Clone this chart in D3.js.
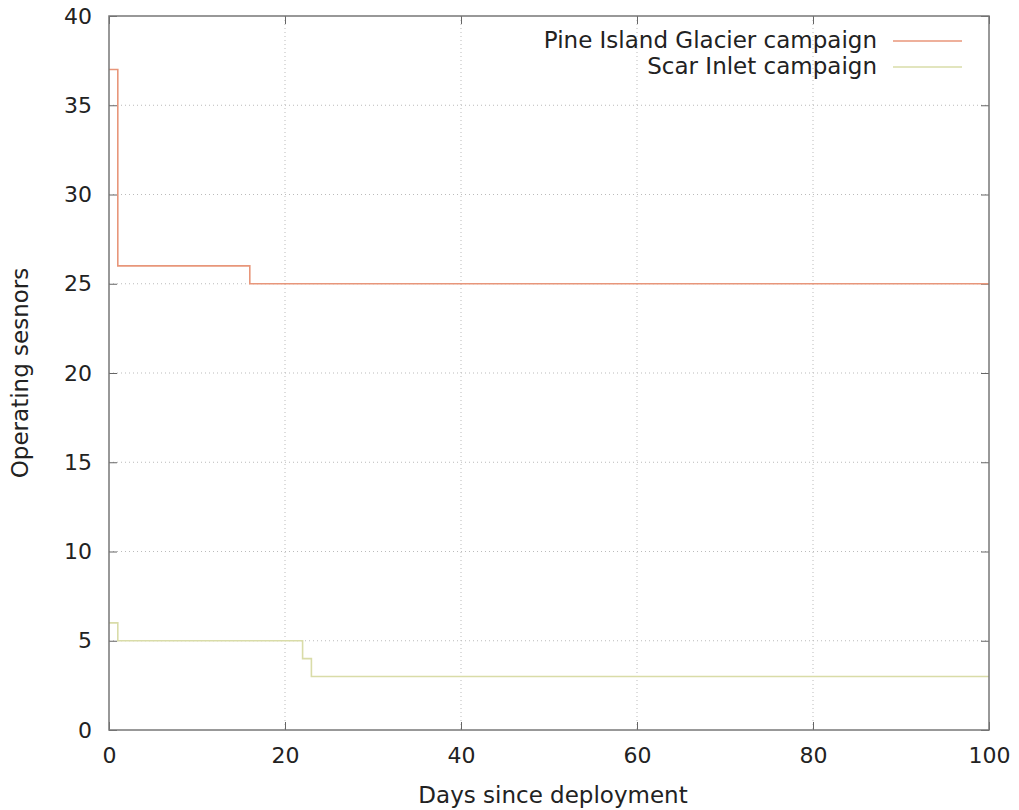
<!DOCTYPE html>
<html><head><meta charset="utf-8">
<script src="https://cdn.jsdelivr.net/npm/d3@7"></script>
<style>body{margin:0;background:#fff}svg{display:block}text{font-family:"DejaVu Sans",sans-serif;fill:#222}</style>
</head><body>
<svg id="c" width="1019" height="810"></svg>
<script>
const seriesNames = ["Pine Island Glacier campaign", "Scar Inlet campaign"];
const pineDays = [0, 1, 16, 100];
const pineSensors = [37, 26, 25, 25];
const scarDays = [0, 1, 22, 23, 100];
const scarSensors = [6, 5, 4, 3, 3];
const xTicks = [0, 20, 40, 60, 80, 100];
const yTicks = [0, 5, 10, 15, 20, 25, 30, 35, 40];
const colors = ["#e8967a", "#d9dca8"];
const FS = 22, FS2 = 23;

const svg = d3.select("#c");
const L = 109, R = 989, T = 16, B = 730;
const x = d3.scaleLinear().domain([0, 100]).range([L, R]);
const y = d3.scaleLinear().domain([0, 40]).range([B, T]);

// grid
const g = svg.append("g");
xTicks.slice(1, -1).forEach(t => g.append("line").attr("x1", x(t)).attr("x2", x(t)).attr("y1", T).attr("y2", B)
  .attr("stroke", "#bbb").attr("stroke-width", 1).attr("stroke-dasharray", "1,3"));
yTicks.slice(1, -1).forEach(t => g.append("line").attr("x1", L).attr("x2", R).attr("y1", y(t)).attr("y2", y(t))
  .attr("stroke", "#bbb").attr("stroke-width", 1).attr("stroke-dasharray", "1,3"));

// axes with inward ticks
const styleText = s => s.selectAll("text").attr("font-size", FS).attr("font-family", "DejaVu Sans").attr("fill", "#222");
const ax = svg.append("g").attr("class", "axes");
ax.append("g").attr("transform", `translate(0,${B})`)
  .call(d3.axisBottom(x).tickValues(xTicks).tickSizeInner(-8).tickSizeOuter(0).tickPadding(17))
  .call(s => { s.select(".domain").remove(); styleText(s); s.selectAll("line").attr("stroke", "#666"); });
ax.append("g").attr("transform", `translate(0,${T})`)
  .call(d3.axisTop(x).tickValues(xTicks).tickSizeInner(-8).tickSizeOuter(0).tickFormat(""))
  .call(s => { s.select(".domain").remove(); s.selectAll("line").attr("stroke", "#666"); });
ax.append("g").attr("transform", `translate(${L},0)`)
  .call(d3.axisLeft(y).tickValues(yTicks).tickSizeInner(-8).tickSizeOuter(0).tickPadding(17))
  .call(s => { s.select(".domain").remove(); styleText(s); s.selectAll("line").attr("stroke", "#666"); });
ax.append("g").attr("transform", `translate(${R},0)`)
  .call(d3.axisRight(y).tickValues(yTicks).tickSizeInner(-8).tickSizeOuter(0).tickFormat(""))
  .call(s => { s.select(".domain").remove(); s.selectAll("line").attr("stroke", "#666"); });

// lines
const line = d3.line().x(d => x(d[0])).y(d => y(d[1])).curve(d3.curveStepAfter);
const data = [d3.zip(pineDays, pineSensors), d3.zip(scarDays, scarSensors)];
data.forEach((d, i) => svg.append("path").attr("d", line(d)).attr("fill", "none")
  .attr("stroke", colors[i]).attr("stroke-width", 1.6));

// frame
svg.append("rect").attr("x", L).attr("y", T).attr("width", R - L).attr("height", B - T)
  .attr("fill", "none").attr("stroke", "#777").attr("stroke-width", 1.5);

// legend
seriesNames.forEach((n, i) => {
  const yy = 41 + i * 26;
  svg.append("text").attr("x", 877).attr("y", yy).attr("dy", "0.3em").attr("text-anchor", "end")
    .attr("font-size", FS2).text(n);
  svg.append("line").attr("x1", 893).attr("x2", 962).attr("y1", yy).attr("y2", yy)
    .attr("stroke", colors[i]).attr("stroke-width", 1.6);
});

// axis titles
svg.append("text").attr("x", (L + R) / 2 + 4).attr("y", 803).attr("text-anchor", "middle").attr("font-size", FS2).text("Days since deployment");
svg.append("text").attr("transform", `translate(28,${(T + B) / 2}) rotate(-90)`).attr("text-anchor", "middle").attr("font-size", FS2).text("Operating sesnors");
</script>
</body></html>
